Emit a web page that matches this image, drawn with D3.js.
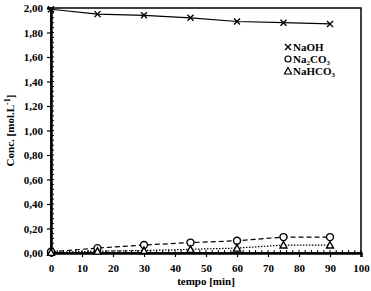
<!DOCTYPE html>
<html>
<head>
<meta charset="utf-8">
<script src="https://cdn.jsdelivr.net/npm/d3@7"></script>
<style>
  body { margin: 0; background: #fff; }
  svg text { font-family: "Liberation Serif", "Times New Roman", serif; font-weight: bold; }
</style>
</head>
<body>
<div id="chart"></div>
<script>
// time in minutes
const tempo = [0, 15, 30, 45, 60, 75, 90];
const naoh = [1.99, 1.95, 1.94, 1.92, 1.89, 1.88, 1.87];
const na2co3 = [0.01, 0.04, 0.065, 0.085, 0.10, 0.13, 0.13];
const nahco3 = [0.005, 0.015, 0.02, 0.03, 0.04, 0.065, 0.065];
const xTicks = d3.range(0, 101, 10);
const yTicks = d3.range(0, 2.001, 0.2);

const width = 371, height = 291;
const margin = {top: 8, right: 10, bottom: 38, left: 51};

const svg = d3.select('#chart').append('svg')
    .attr('width', width)
    .attr('height', height);

const x = d3.scaleLinear().domain([0, 100]).range([margin.left, width - margin.right]);
const y = d3.scaleLinear().domain([0, 2]).range([height - margin.bottom, margin.top]);

// frame
svg.append('rect')
    .attr('x', x(0)).attr('y', y(2))
    .attr('width', x(100) - x(0)).attr('height', y(0) - y(2))
    .attr('fill', 'none').attr('stroke', '#000').attr('stroke-width', 1.5);

// minor ticks
svg.append('g').selectAll('line')
    .data(d3.range(0, 100.1, 2))
    .join('line')
    .attr('x1', d => x(d)).attr('x2', d => x(d))
    .attr('y1', y(0)).attr('y2', y(0) - 3)
    .attr('stroke', '#000').attr('stroke-width', 1);
svg.append('g').selectAll('line')
    .data(d3.range(0, 2.001, 0.04))
    .join('line')
    .attr('x1', x(0)).attr('x2', x(0) + 3)
    .attr('y1', d => y(d)).attr('y2', d => y(d))
    .attr('stroke', '#000').attr('stroke-width', 1);

// axes
const xAxis = svg.append('g')
    .attr('transform', `translate(0,${y(0)})`)
    .call(d3.axisBottom(x).tickValues(xTicks).tickSize(4).tickFormat(d3.format('d')));
const yAxis = svg.append('g')
    .attr('transform', `translate(${x(0)},0)`)
    .call(d3.axisLeft(y).tickValues(yTicks).tickSize(4).tickFormat(d => d.toFixed(2).replace('.', ',')));

[xAxis, yAxis].forEach(a => {
    a.select('.domain').attr('stroke-width', 2.5);
    a.selectAll('.tick line').attr('stroke-width', 1.2);
    a.selectAll('text').attr('font-size', 11).attr('fill', '#000');
});
xAxis.selectAll('text').attr('dy', '1.1em');
yAxis.selectAll('text').attr('x', -8);

// series lines
const line = d3.line().x(d => x(d[0])).y(d => y(d[1]));
const series = [
    {name: 'NaOH', vals: naoh, dash: null},
    {name: 'Na2CO3', vals: na2co3, dash: '5,3'},
    {name: 'NaHCO3', vals: nahco3, dash: '1.5,1.5'}
];
series.forEach(s => {
    svg.append('path')
        .datum(tempo.map((t, i) => [t, s.vals[i]]))
        .attr('d', line)
        .attr('fill', 'none')
        .attr('stroke', '#000')
        .attr('stroke-width', 1.2)
        .attr('stroke-dasharray', s.dash);
});

// markers
function cross(g, cx, cy) {
    g.append('path')
        .attr('d', `M${cx - 3},${cy - 3}L${cx + 3},${cy + 3}M${cx - 3},${cy + 3}L${cx + 3},${cy - 3}`)
        .attr('stroke', '#000').attr('stroke-width', 1.4);
}
function circ(g, cx, cy) {
    g.append('circle').attr('cx', cx).attr('cy', cy).attr('r', 3.5)
        .attr('fill', '#fff').attr('stroke', '#000').attr('stroke-width', 1.4);
}
function tri(g, cx, cy) {
    g.append('path')
        .attr('d', `M${cx},${cy - 3.5}L${cx + 3.5},${cy + 3}L${cx - 3.5},${cy + 3}Z`)
        .attr('fill', '#fff').attr('stroke', '#000').attr('stroke-width', 1.4);
}
const mk = svg.append('g');
tempo.forEach((t, i) => {
    cross(mk, x(t), y(naoh[i]));
    circ(mk, x(t), y(na2co3[i]));
    tri(mk, x(t), y(nahco3[i]));
});

// legend
const lg = svg.append('g');
[0, 1, 2].forEach(i => {
    const ly = 47 + i * 12;
    const lx = 288;
    if (i === 0) cross(lg, lx, ly);
    if (i === 1) lg.append('circle').attr('cx', lx).attr('cy', ly).attr('r', 3)
        .attr('fill', 'none').attr('stroke', '#000').attr('stroke-width', 1.2);
    if (i === 2) lg.append('path')
        .attr('d', `M${lx},${ly - 3.5}L${lx + 3.5},${ly + 3}L${lx - 3.5},${ly + 3}Z`)
        .attr('fill', 'none').attr('stroke', '#000').attr('stroke-width', 1.2);
    const t = lg.append('text').attr('x', lx + 5).attr('y', ly + 4).attr('font-size', 11);
    if (i === 0) t.text('NaOH');
    if (i === 1) {
        t.append('tspan').text('Na');
        t.append('tspan').attr('font-size', 7).attr('dy', 1.5).text('2');
        t.append('tspan').attr('dy', -1.5).text('CO');
        t.append('tspan').attr('font-size', 7).attr('dy', 1.5).text('3');
    }
    if (i === 2) {
        t.append('tspan').text('NaHCO');
        t.append('tspan').attr('font-size', 7).attr('dy', 1.5).text('3');
    }
});

// axis titles
svg.append('text')
    .attr('x', (x(0) + x(100)) / 2).attr('y', 285)
    .attr('text-anchor', 'middle').attr('font-size', 11)
    .text('tempo [min]');
const yt = svg.append('text')
    .attr('transform', `translate(14,${(y(0) + y(2)) / 2}) rotate(-90)`)
    .attr('text-anchor', 'middle').attr('font-size', 11);
yt.append('tspan').text('Conc. [mol.L');
yt.append('tspan').attr('font-size', 8).attr('dy', -4).text('-1');
yt.append('tspan').attr('dy', 4).text(']');
</script>
</body>
</html>
